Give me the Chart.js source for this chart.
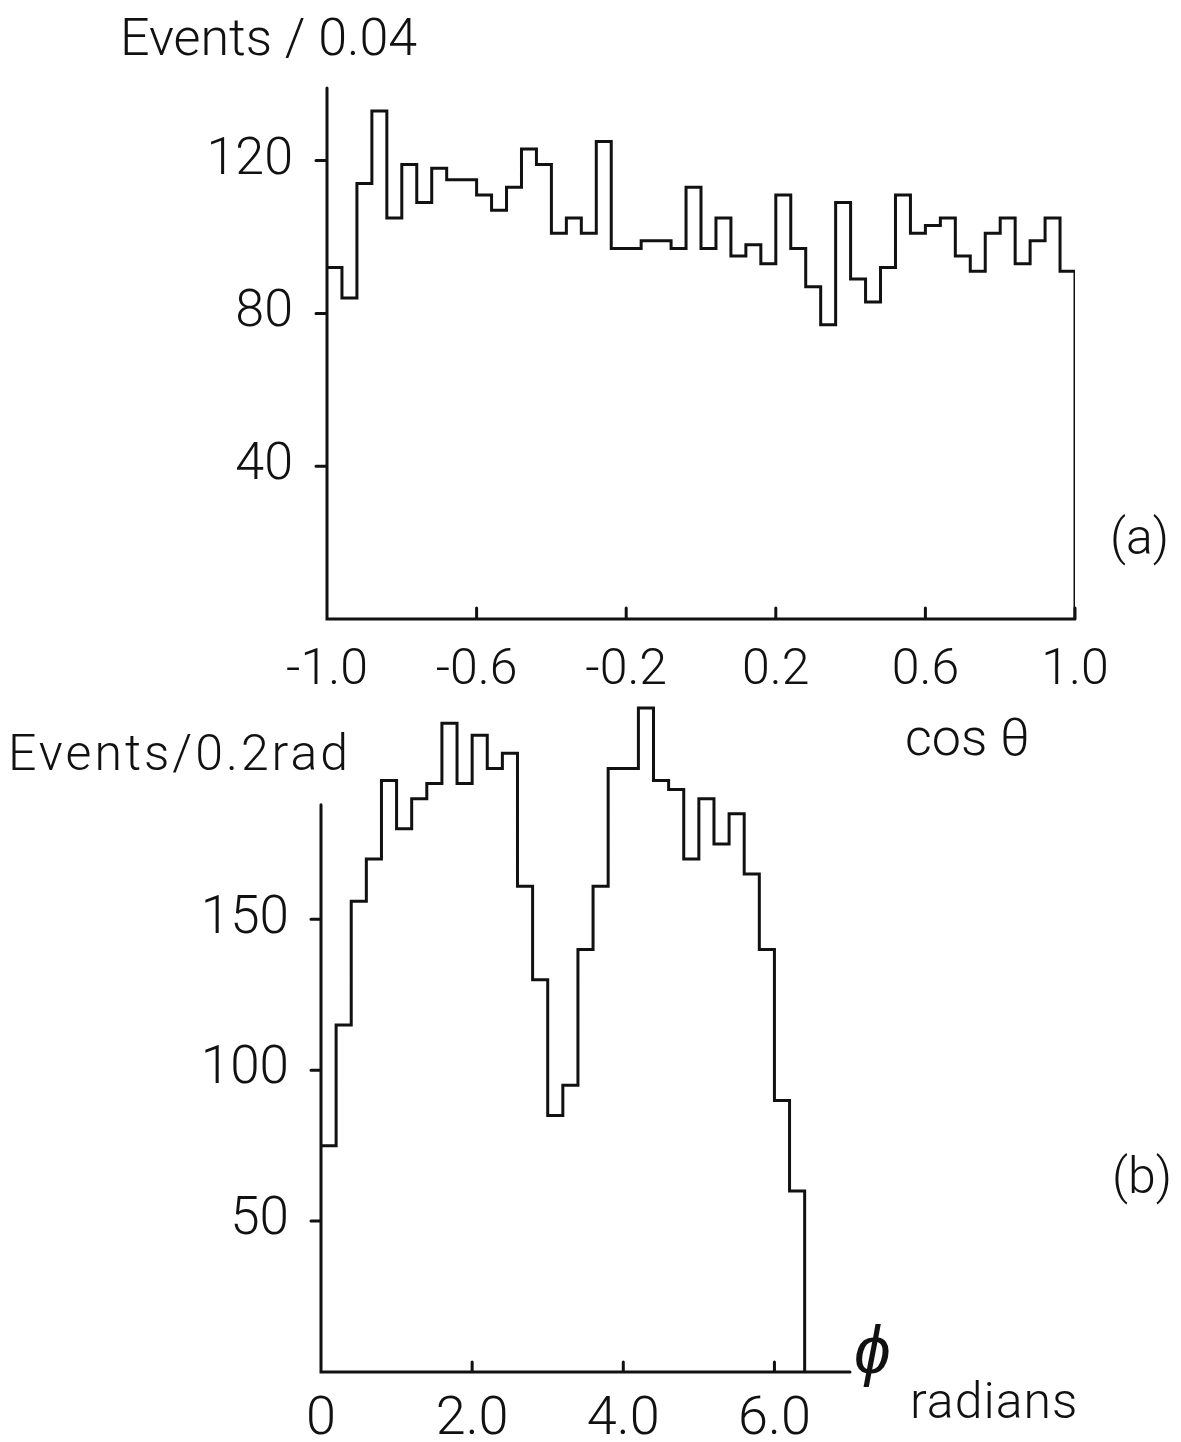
<!DOCTYPE html>
<html>
<head>
<meta charset="utf-8">
<script src="https://cdn.jsdelivr.net/npm/chart.js@4/dist/chart.umd.min.js"></script>
<style>
  html, body { margin: 0; padding: 0; background: #fff; }
  #page { position: relative; width: 1181px; height: 1442px; overflow: hidden; background: #fff; }
  canvas { position: absolute; left: 0; }
  .lbl { position: absolute; font-family: Roboto, "Liberation Sans", sans-serif; font-weight: 300;
         color: #111; line-height: 1; white-space: nowrap; }
</style>
</head>
<body>
<div id="page">
  <canvas id="chartA" width="1181" height="720" style="top:0"></canvas>
  <canvas id="chartB" width="1181" height="842" style="top:600px"></canvas>

  <div class="lbl" style="left:120px; top:12px; font-size:52px;">Events / 0.04</div>
  <div class="lbl" style="left:1110px; top:512px; font-size:50px;">(a)</div>
  <div class="lbl" style="left:905px; top:712px; font-size:52px;">cos θ</div>
  <div class="lbl" style="left:8px; top:728px; font-size:50px; letter-spacing:3px;">Events/0.2rad</div>
  <div class="lbl" style="left:1112px; top:1151px; font-size:50px;">(b)</div>
  <div class="lbl" style="left:854px; top:1318px; font-size:66px; font-style:italic;">ϕ</div>
  <div class="lbl" style="left:910px; top:1376px; font-size:50px; letter-spacing:1px;">radians</div>
</div>

<script>
// ---- (a) cos(theta) distribution, 50 bins of width 0.04 on [-1, 1] ----
const cosBinStart = -1.0;
const cosBinWidth = 0.04;
const cosCounts = [92, 84, 114, 133, 105, 119, 109, 118, 115, 115,
                   111, 107, 113, 123, 119, 101, 105, 101, 125, 97,
                   97, 99, 99, 97, 113, 97, 105, 95, 98, 93,
                   111, 97, 87, 77, 109, 89, 83, 92, 111, 101,
                   103, 105, 95, 91, 101, 105, 93, 99, 105, 91];
const cosXTicks = [-1.0, -0.6, -0.2, 0.2, 0.6, 1.0];
const cosYTicks = [40, 80, 120];
const cosYMax = 139;

// ---- (b) phi distribution, 32 bins of width 0.2 rad starting at 0 ----
const phiBinStart = 0;
const phiBinWidth = 0.2;
const phiCounts = [75, 115, 156, 170, 196, 180, 190, 195, 215, 195,
                   211, 200, 205, 161, 130, 85, 95, 140, 161, 200,
                   200, 220, 196, 193, 170, 190, 175, 185, 165, 140,
                   90, 60];
const phiXTicks = [0, 2.0, 4.0, 6.0];
const phiYTicks = [50, 100, 150];
const phiXMax = 7.0;
const phiYMax = 226;
const phiYAxisTop = 188;

const ink = '#111';
const fontFamily = 'Roboto, "Liberation Sans", sans-serif';

// Build a closed histogram outline: one point per bin's left edge,
// then the right edge of the last bin dropping to zero.
function outline(start, width, counts) {
  const pts = counts.map((c, i) => ({ x: +(start + i * width).toFixed(4), y: c }));
  const end = +(start + counts.length * width).toFixed(4);
  pts.push({ x: end, y: counts[counts.length - 1] });
  pts.push({ x: end, y: 0 });
  return pts;
}

// Axis lines and short tick marks drawn from the chart scales.
const handAxes = {
  id: 'handAxes',
  afterDatasetsDraw(chart, args, opts) {
    const { ctx } = chart;
    const x = chart.scales.x, y = chart.scales.y;
    const x0 = x.getPixelForValue(x.min);
    const y0 = y.getPixelForValue(0);
    ctx.save();
    ctx.strokeStyle = ink;
    ctx.lineWidth = opts.width;
    ctx.lineCap = 'round';
    ctx.beginPath();
    ctx.moveTo(x0, y.getPixelForValue(opts.yTop));
    ctx.lineTo(x0, y0);
    ctx.lineTo(x.getPixelForValue(opts.xEnd), y0);
    y.ticks.forEach(t => {
      const py = y.getPixelForValue(t.value);
      ctx.moveTo(x0 - opts.tick, py);
      ctx.lineTo(x0, py);
    });
    x.ticks.forEach(t => {
      const px = x.getPixelForValue(t.value);
      ctx.moveTo(px, y0);
      ctx.lineTo(px, y0 - opts.tick);
    });
    ctx.stroke();
    ctx.restore();
  }
};

function makeChart(canvasId, cfg) {
  return new Chart(document.getElementById(canvasId), {
    type: 'line',
    data: {
      datasets: [{
        data: cfg.points,
        stepped: true,
        borderColor: ink,
        borderWidth: 3,
        pointRadius: 0,
        fill: false,
        tension: 0
      }]
    },
    plugins: [handAxes],
    options: {
      responsive: false,
      animation: false,
      devicePixelRatio: 1,
      parsing: false,
      layout: { padding: cfg.padding },
      plugins: {
        legend: { display: false },
        tooltip: { enabled: false },
        handAxes: cfg.axes
      },
      scales: {
        x: {
          type: 'linear',
          min: cfg.xMin, max: cfg.xMax,
          grid: { display: false, drawTicks: false },
          border: { display: false },
          afterBuildTicks: s => { s.ticks = cfg.xTicks.map(v => ({ value: v })); },
          afterFit: s => { s.height = cfg.xAxisHeight; },
          ticks: {
            autoSkip: false, maxRotation: 0, padding: cfg.xPad, color: ink,
            font: { family: fontFamily, size: cfg.xFont, weight: 300 },
            callback: cfg.xFmt
          }
        },
        y: {
          type: 'linear',
          min: 0, max: cfg.yMax,
          grid: { display: false, drawTicks: false },
          border: { display: false },
          afterBuildTicks: s => { s.ticks = cfg.yTicks.map(v => ({ value: v })); },
          afterFit: s => { s.width = cfg.yAxisWidth; },
          ticks: {
            autoSkip: false, padding: cfg.yPad, color: ink,
            font: { family: fontFamily, size: cfg.yFont, weight: 300 },
            callback: v => String(v)
          }
        }
      }
    }
  });
}

makeChart('chartA', {
  points: outline(cosBinStart, cosBinWidth, cosCounts),
  xMin: -1, xMax: 1, yMax: cosYMax,
  xTicks: cosXTicks, yTicks: cosYTicks,
  xFmt: v => v.toFixed(1),
  padding: { left: 0, right: 106, top: 88, bottom: 0 },
  yAxisWidth: 327, xAxisHeight: 101,
  xPad: 22, yPad: 34, xFont: 50, yFont: 52,
  axes: { yTop: cosYMax, xEnd: 1, tick: 11, width: 3 }
});

makeChart('chartB', {
  points: outline(phiBinStart, phiBinWidth, phiCounts),
  xMin: 0, xMax: phiXMax, yMax: phiYMax,
  xTicks: phiXTicks, yTicks: phiYTicks,
  xFmt: v => (v === 0 ? '0' : v.toFixed(1)),
  padding: { left: 0, right: 331, top: 90, bottom: 0 },
  yAxisWidth: 321, xAxisHeight: 70,
  xPad: 16, yPad: 32, xFont: 54, yFont: 53,
  axes: { yTop: phiYAxisTop, xEnd: phiXMax, tick: 10, width: 3 }
});
</script>
</body>
</html>
